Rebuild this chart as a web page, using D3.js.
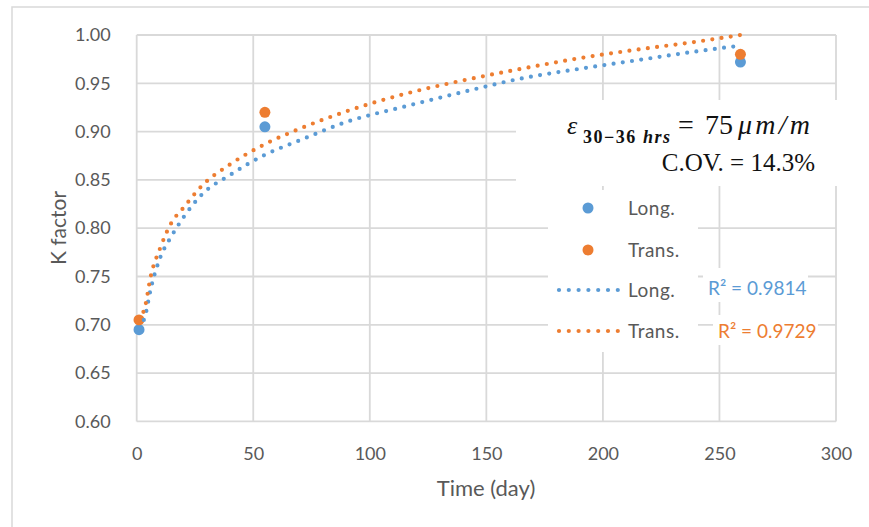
<!DOCTYPE html>
<html>
<head>
<meta charset="utf-8">
<script src="https://cdn.jsdelivr.net/npm/d3@7"></script>
<style>
  html, body { margin: 0; padding: 0; background: #fff; }
  svg { display: block; }
</style>
</head>
<body>
<svg id="chart" width="869" height="527"></svg>
<script>
// ---- data ----
const markerDays = [1, 55, 259];
const longValues = [0.695, 0.905, 0.972];
const transValues = [0.705, 0.920, 0.980];

const trendDays   = [1, 3.6, 6, 10, 15, 20, 28, 40, 55, 70, 90, 115, 140, 165, 190, 215, 240, 259];
const longTrend   = [0.697, 0.709, 0.737, 0.769, 0.792, 0.811, 0.835, 0.855, 0.876, 0.891, 0.910, 0.926, 0.941, 0.955, 0.965, 0.974, 0.983, 0.989];
const transTrend  = [0.705, 0.719, 0.750, 0.779, 0.806, 0.821, 0.844, 0.866, 0.887, 0.903, 0.921, 0.939, 0.953, 0.965, 0.976, 0.985, 0.993, 1.000];

const xTicks = [0, 50, 100, 150, 200, 250, 300];
const yTicks = [0.60, 0.65, 0.70, 0.75, 0.80, 0.85, 0.90, 0.95, 1.00];

const seriesNames = ["Long.", "Trans."];
const r2Labels = ["R\u00B2 = 0.9814", "R\u00B2 = 0.9729"];

const BLUE = "#5b9bd5", ORANGE = "#ed7d31", GRID = "#d9d9d9", TXT = "#595959";
const FONT = "Lato, 'Open Sans', sans-serif";

const svg = d3.select("#chart");
const x = d3.scaleLinear().domain([0, 300]).range([136.7, 836]);
const y = d3.scaleLinear().domain([0.60, 1.00]).range([421.4, 35]);

// outer frame (left + top)
svg.append("path").attr("d", "M12,527 L12,7 L869,7")
  .attr("fill", "none").attr("stroke", GRID).attr("stroke-width", 1.5);

// gridlines
const grid = svg.append("g");
grid.selectAll("line.h").data(yTicks).join("line")
  .attr("x1", x(0)).attr("x2", x(300))
  .attr("y1", d => y(d)).attr("y2", d => y(d))
  .attr("stroke", GRID).attr("stroke-width", 1.8);
grid.selectAll("line.v").data(xTicks).join("line")
  .attr("y1", y(0.6)).attr("y2", y(1.0))
  .attr("x1", d => x(d)).attr("x2", d => x(d))
  .attr("stroke", GRID).attr("stroke-width", 1.8);

// axes labels via d3 axes (no domain / tick lines)
const yAxis = svg.append("g").attr("transform", `translate(${x(0) - 23},0)`)
  .call(d3.axisLeft(y).tickValues(yTicks).tickFormat(d3.format(".2f")).tickSize(0));
const xAxis = svg.append("g").attr("transform", `translate(0,${y(0.6) + 19})`)
  .call(d3.axisBottom(x).tickValues(xTicks).tickSize(0));
[yAxis, xAxis].forEach(a => {
  a.select(".domain").remove();
  a.selectAll("text").attr("fill", TXT).style("font-family", FONT).style("font-size", "18px");
});
xAxis.selectAll("text").attr("dy", "0.9em");

svg.append("text").attr("x", 486).attr("y", 496).attr("text-anchor", "middle")
  .attr("fill", TXT).style("font-family", FONT).style("font-size", "22px").text("Time (day)");
svg.append("text").attr("transform", "translate(66,228) rotate(-90)").attr("text-anchor", "middle")
  .attr("fill", TXT).style("font-family", FONT).style("font-size", "21px").text("K factor");

// markers
const mk = svg.append("g");
mk.selectAll("circle.l").data(markerDays.map((d, i) => [d, longValues[i]])).join("circle")
  .attr("cx", d => x(d[0])).attr("cy", d => y(d[1])).attr("r", 5.5).attr("fill", BLUE);
mk.selectAll("circle.t").data(markerDays.map((d, i) => [d, transValues[i]])).join("circle")
  .attr("cx", d => x(d[0])).attr("cy", d => y(d[1])).attr("r", 5.5).attr("fill", ORANGE);

// trendlines
const line = d3.line().x(d => x(d[0])).y(d => y(d[1])).curve(d3.curveMonotoneX);
[[longTrend, BLUE], [transTrend, ORANGE]].forEach(([vals, col]) => {
  svg.append("path").datum(trendDays.map((d, i) => [d, vals[i]]))
    .attr("d", line).attr("fill", "none").attr("stroke", col)
    .attr("stroke-width", 4.2).attr("stroke-linecap", "round").attr("stroke-dasharray", "0 9.3");
});

// annotation box
svg.append("rect").attr("x", 516).attr("y", 100).attr("width", 330).attr("height", 86).attr("fill", "#fff");
const serif = "'Liberation Serif', 'DejaVu Serif', serif";
svg.append("text").attr("x", 567).attr("y", 134).style("font-family", serif).style("font-size", "26px")
  .style("font-style", "italic").attr("fill", "#111").text("\u03B5");
svg.append("text").attr("x", 583).attr("y", 143).style("font-family", serif).style("font-size", "18px")
  .style("font-weight", "bold").attr("fill", "#111").attr("textLength", 87).attr("lengthAdjust", "spacing")
  .call(t => { t.append("tspan").text("30\u221236 "); t.append("tspan").style("font-style", "italic").text("hrs"); });
svg.append("text").attr("x", 678).attr("y", 134).style("font-family", serif).style("font-size", "28px")
  .attr("fill", "#111").text("=");
svg.append("text").attr("x", 705).attr("y", 134).style("font-family", serif).style("font-size", "28px")
  .attr("fill", "#111").text("75");
svg.append("text").attr("x", 738).attr("y", 134).style("font-family", serif).style("font-size", "28px")
  .style("font-style", "italic").attr("fill", "#111").attr("textLength", 72).attr("lengthAdjust", "spacing")
  .text("\u03BCm/m");
svg.append("text").attr("x", 815).attr("y", 171).attr("text-anchor", "end").style("font-family", serif)
  .style("font-size", "25px").attr("fill", "#111").text("C.OV. = 14.3%");

// legend
svg.append("rect").attr("x", 548).attr("y", 190).attr("width", 150).attr("height", 162).attr("fill", "#fff");
const lg = svg.append("g").style("font-family", FONT).style("font-size", "19px");
[[BLUE, 208], [ORANGE, 250]].forEach(([c, yy], i) => {
  lg.append("circle").attr("cx", 588).attr("cy", yy).attr("r", 5.5).attr("fill", c);
  lg.append("text").attr("x", 628).attr("y", yy).attr("dy", "0.35em").attr("fill", TXT)
    .style("letter-spacing", "0.5px").text(seriesNames[i]);
});
[[BLUE, 290], [ORANGE, 331]].forEach(([c, yy], i) => {
  lg.append("line").attr("x1", 559).attr("x2", 619).attr("y1", yy).attr("y2", yy)
    .attr("stroke", c).attr("stroke-width", 4.2).attr("stroke-linecap", "round").attr("stroke-dasharray", "0 9.8");
  lg.append("text").attr("x", 628).attr("y", yy).attr("dy", "0.35em").attr("fill", TXT)
    .style("letter-spacing", "0.5px").text(seriesNames[i]);
});

// R² labels
svg.append("rect").attr("x", 703).attr("y", 268).attr("width", 105).attr("height", 34).attr("fill", "#fff");
svg.append("rect").attr("x", 713).attr("y", 315).attr("width", 105).attr("height", 30).attr("fill", "#fff");
svg.append("text").attr("x", 708).attr("y", 288).attr("dy", "0.35em").attr("fill", BLUE)
  .style("font-family", FONT).style("font-size", "19px").text(r2Labels[0]);
svg.append("text").attr("x", 718).attr("y", 331).attr("dy", "0.35em").attr("fill", ORANGE)
  .style("font-family", FONT).style("font-size", "19px").text(r2Labels[1]);
</script>
</body>
</html>
